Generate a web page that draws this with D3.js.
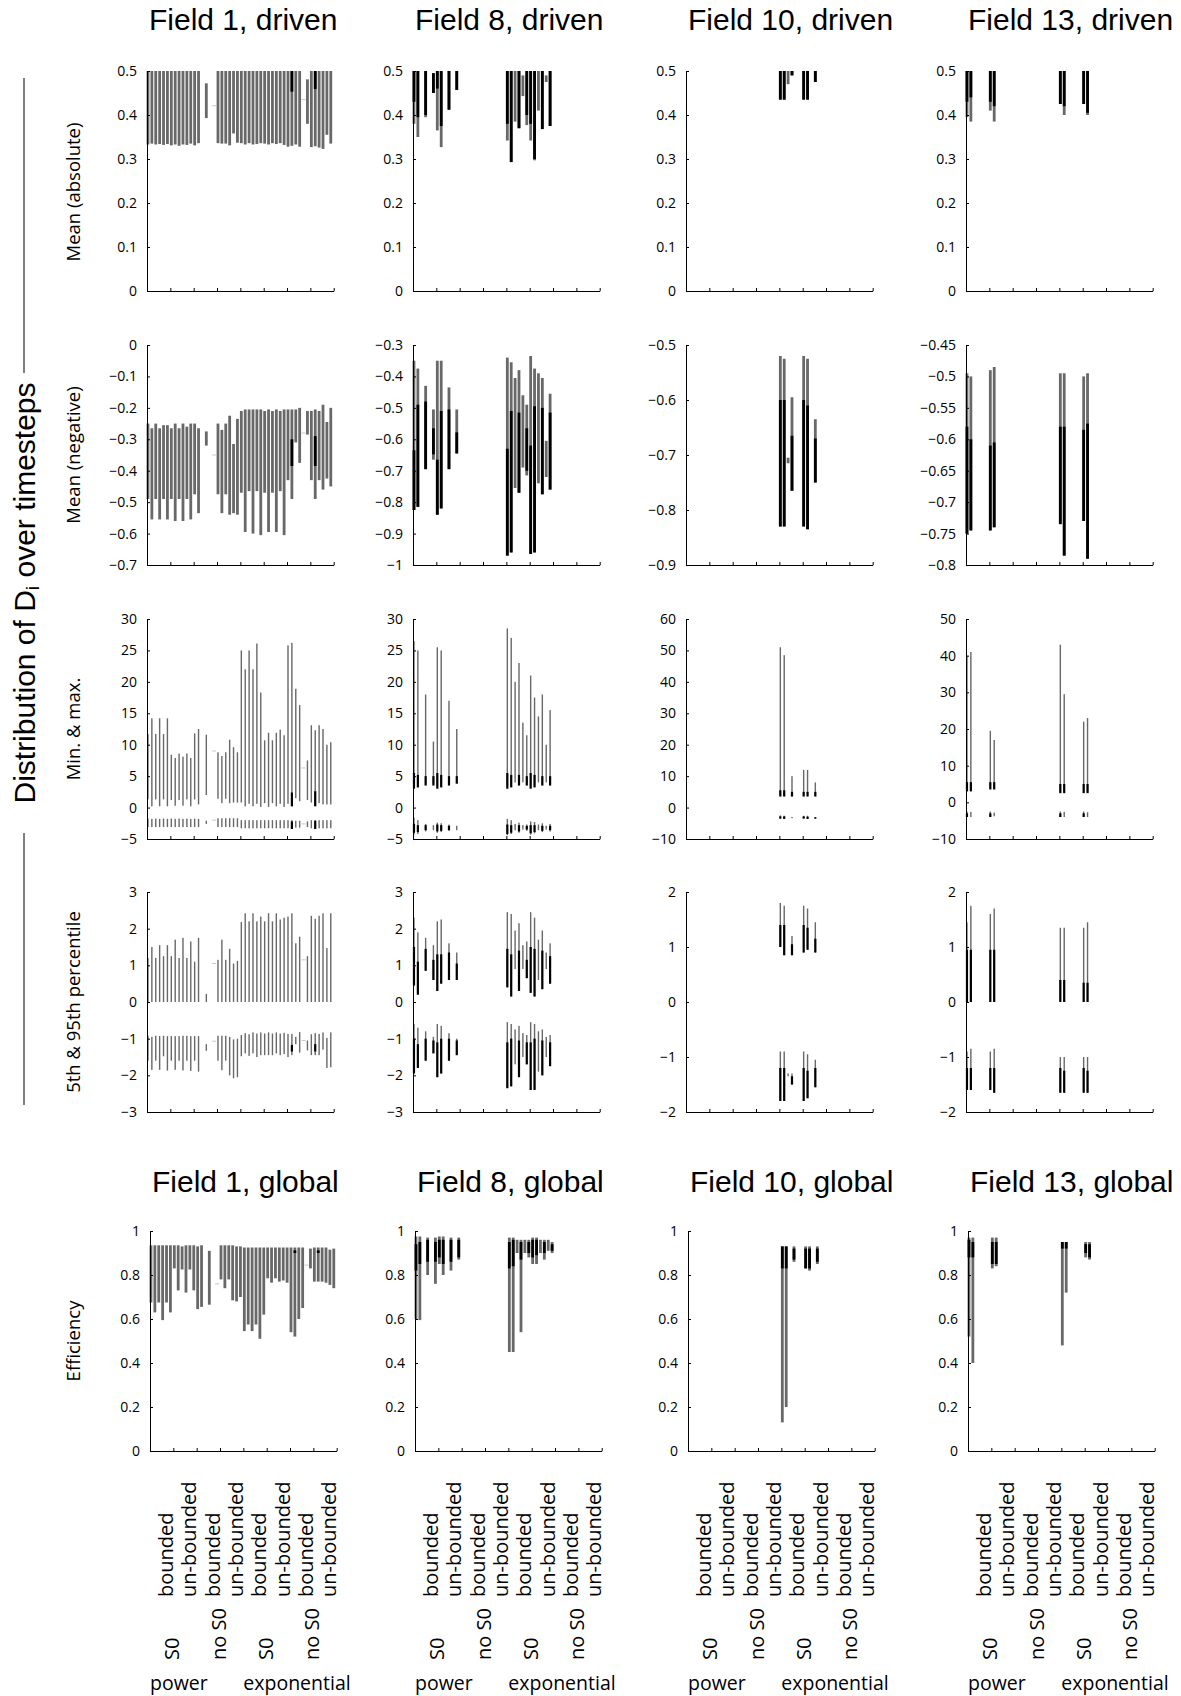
<!DOCTYPE html>
<html>
<head>
<meta charset="utf-8">
<script src="https://cdn.jsdelivr.net/npm/d3@7"></script>
<style>
  body { margin: 0; background: #fff; }
  svg text { font-family: "Open Sans", sans-serif; fill: #000; }
</style>
</head>
<body>
<script>
// 8 groups x 6 slots along each x axis
const slots = 48;
const groupLabels = ['bounded', 'un-bounded', 'bounded', 'un-bounded', 'bounded', 'un-bounded', 'bounded', 'un-bounded'];
const s0Labels = ['S0', 'no S0', 'S0', 'no S0'];
const modelLabels = ['power', 'exponential'];
const fieldNames = ['Field 1', 'Field 8', 'Field 10', 'Field 13'];
const rowLabels = ['Mean (absolute)', 'Mean (negative)', 'Min. & max.', '5th & 95th percentile', 'Efficiency'];

// y ticks per row / column
const yTicks = [
  [[0, .1, .2, .3, .4, .5], [0, .1, .2, .3, .4, .5], [0, .1, .2, .3, .4, .5], [0, .1, .2, .3, .4, .5]],
  [[-.7, -.6, -.5, -.4, -.3, -.2, -.1, 0], [-1, -.9, -.8, -.7, -.6, -.5, -.4, -.3], [-.9, -.8, -.7, -.6, -.5], [-.8, -.75, -.7, -.65, -.6, -.55, -.5, -.45]],
  [[-5, 0, 5, 10, 15, 20, 25, 30], [-5, 0, 5, 10, 15, 20, 25, 30], [-10, 0, 10, 20, 30, 40, 50, 60], [-10, 0, 10, 20, 30, 40, 50]],
  [[-3, -2, -1, 0, 1, 2, 3], [-3, -2, -1, 0, 1, 2, 3], [-2, -1, 0, 1, 2], [-2, -1, 0, 1, 2]],
  [[0, .2, .4, .6, .8, 1], [0, .2, .4, .6, .8, 1], [0, .2, .4, .6, .8, 1], [0, .2, .4, .6, .8, 1]]
];

// bars: [slot, grayLo, grayHi, blackLo, blackHi]
const f1MeanAbs = [[0,.333,.5],[1,.335,.5],[2,.333,.5],[3,.334,.5],[4,.332,.5],[5,.334,.5],[6,.331,.5],[7,.333,.5],[8,.330,.5],[9,.333,.5],[10,.332,.5],[11,.335,.5],[12,.331,.5],[13,.336,.5],[15,.393,.472],[17,.421,.421],[18,.336,.5],[19,.335,.5],[20,.335,.5],[21,.331,.5],[22,.358,.5],[23,.337,.5],[24,.336,.5],[25,.333,.5],[26,.336,.5],[27,.333,.5],[28,.334,.5],[29,.336,.5],[30,.335,.5],[31,.333,.5],[32,.336,.5],[33,.334,.5],[34,.336,.5],[35,.332,.5],[36,.328,.5],[37,.330,.5,.453,.5],[38,.333,.5],[39,.328,.5],[40,.435,.435],[41,.380,.481],[42,.327,.5],[43,.329,.5,.459,.5],[44,.326,.5],[45,.323,.5],[46,.355,.5],[47,.335,.5]];
const f1MeanNeg = [[0,-.49,-.25],[1,-.555,-.265],[2,-.49,-.25],[3,-.555,-.265],[4,-.49,-.255],[5,-.555,-.255],[6,-.49,-.265],[7,-.56,-.25],[8,-.49,-.265],[9,-.56,-.25],[10,-.49,-.26],[11,-.555,-.25],[12,-.475,-.25],[13,-.535,-.265],[15,-.32,-.275],[17,-.35,-.35],[18,-.475,-.25],[19,-.535,-.27],[20,-.475,-.25],[21,-.54,-.225],[22,-.535,-.315],[23,-.54,-.235],[24,-.47,-.21],[25,-.595,-.205],[26,-.465,-.205],[27,-.6,-.205],[28,-.465,-.205],[29,-.605,-.205],[30,-.47,-.21],[31,-.595,-.205],[32,-.47,-.21],[33,-.595,-.205],[34,-.465,-.21],[35,-.605,-.205],[36,-.43,-.205],[37,-.49,-.205,-.385,-.30],[38,-.31,-.205],[39,-.375,-.2],[40,-.28,-.28],[41,-.285,-.21],[42,-.43,-.21],[43,-.49,-.205,-.385,-.29],[44,-.43,-.21],[45,-.46,-.19],[46,-.425,-.245],[47,-.45,-.2]];
const f1Max = [[0,1.3,11.7],[1,.2,14.2],[2,1.3,11.7],[3,.2,14.2],[4,1.3,11.7],[5,.2,14.2],[6,1.2,8.4],[7,.3,7.9],[8,1.2,8.6],[9,.3,8.1],[10,1.3,8.6],[11,.2,7.9],[12,1.3,11.8],[13,.5,12.5],[15,2,11.6],[17,9,9],[18,1.4,8.8],[19,.7,8.2],[20,1.4,8.8],[21,.7,10.8],[22,.8,9.6],[23,.8,8.8],[24,.8,25],[25,.2,22],[26,.6,25],[27,.2,22],[28,.6,26.1],[29,.1,18.3],[30,.7,10.7],[31,.1,11.9],[32,.7,10.7],[33,.2,11.9],[34,.6,12.4],[35,.1,11.5],[36,.6,25.8],[37,.2,26.2,.2,2.4],[38,1.5,18.9],[39,1,16.3],[40,6.3,6.3],[41,1.2,7.5],[42,.8,13.1],[43,.3,12.3,.2,2.6],[44,.7,13.1],[45,.5,12.5],[46,.5,10],[47,.5,10.4]];
const f1Min = [[0,-3.1,-1.75],[1,-3.1,-1.8],[2,-3.1,-1.75],[3,-3.1,-1.8],[4,-3.1,-1.75],[5,-3.1,-1.8],[6,-3.1,-1.75],[7,-3.1,-1.8],[8,-3.1,-1.75],[9,-3.1,-1.8],[10,-3.1,-1.75],[11,-3.1,-1.8],[12,-3.1,-1.75],[13,-3.1,-1.8],[15,-2.6,-2.1],[17,-2.0,-2.0],[18,-3.1,-1.7],[19,-3.1,-1.7],[20,-3.1,-1.7],[21,-3.1,-1.7],[22,-3.1,-1.7],[23,-3.1,-1.7],[24,-3.3,-2],[25,-3.3,-2],[26,-3.3,-2],[27,-3.3,-2],[28,-3.3,-2],[29,-3.3,-2],[30,-3.3,-2],[31,-3.3,-2],[32,-3.3,-2],[33,-3.3,-2],[34,-3.3,-2],[35,-3.3,-2],[36,-3.3,-2],[37,-3.4,-2,-3.4,-2.2],[38,-3.2,-2.1],[39,-3.2,-2.1],[40,-2.6,-2.6],[41,-3.1,-2.2],[42,-3.3,-2],[43,-3.4,-2,-3.4,-2.1],[44,-3.3,-2],[45,-3.3,-2],[46,-3.3,-2],[47,-3.3,-2]];
const f1P95 = [[0,0,1.2],[1,0,1.5],[2,0,1.2],[3,0,1.55],[4,0,1.25],[5,0,1.55],[6,0,1.25],[7,0,1.7],[8,0,1.2],[9,0,1.75],[10,0,1.2],[11,0,1.65],[12,0,1.1],[13,0,1.75],[15,0,.22],[17,1.05,1.05],[18,0,1.15],[19,0,1.7],[20,0,1.15],[21,0,1.45],[22,0,1.05],[23,0,1.12],[24,0,2.18],[25,0,2.42],[26,0,2.2],[27,0,2.42],[28,0,2.2],[29,0,2.33],[30,0,2.2],[31,0,2.42],[32,0,2.2],[33,0,2.42],[34,0,2.25],[35,0,2.3],[36,0,2.33],[37,0,2.42],[38,0,1.6],[39,0,1.78],[40,1.15,1.15],[41,0,1.25],[42,0,2.35],[43,0,2.27],[44,0,2.35],[45,0,2.42],[46,0,1.47],[47,0,2.42]];
const f1P5 = [[0,-1.6,-.92],[1,-1.85,-.95],[2,-1.6,-.92],[3,-1.85,-.93],[4,-1.48,-.92],[5,-1.87,-.93],[6,-1.6,-.93],[7,-1.85,-.93],[8,-1.6,-.93],[9,-1.87,-.92],[10,-1.6,-.92],[11,-1.88,-.93],[12,-1.6,-.93],[13,-1.9,-.93],[15,-1.33,-1.15],[17,-1.07,-1.07],[18,-1.6,-.92],[19,-1.86,-.92],[20,-1.6,-.92],[21,-2,-.95],[22,-2.08,-1.02],[23,-2.05,-1],[24,-1.48,-.9],[25,-1.4,-.85],[26,-1.47,-.88],[27,-1.4,-.83],[28,-1.5,-.86],[29,-1.45,-.83],[30,-1.45,-.86],[31,-1.45,-.83],[32,-1.45,-.86],[33,-1.4,-.83],[34,-1.45,-.86],[35,-1.42,-.84],[36,-1.5,-.87],[37,-1.45,-.87,-1.35,-1.17],[38,-1.15,-.95],[39,-1.38,-.82],[40,-1.05,-1.05],[41,-1.32,-1.05],[42,-1.45,-.88],[43,-1.45,-.85,-1.35,-1.15],[44,-1.45,-.87],[45,-1.3,-.83],[46,-1.8,-.98],[47,-1.78,-.83]];
const f1Eff = [[0,.675,.935],[1,.63,.935],[2,.675,.935],[3,.595,.935],[4,.675,.935],[5,.63,.935],[6,.83,.935],[7,.73,.935],[8,.825,.93],[9,.72,.935],[10,.825,.935],[11,.73,.935],[12,.645,.93],[13,.655,.935],[15,.665,.91],[17,.76,.76],[18,.78,.935],[19,.74,.935],[20,.78,.935],[21,.685,.935],[22,.68,.93],[23,.70,.93],[24,.545,.925],[25,.575,.925],[26,.545,.925],[27,.575,.925],[28,.51,.925],[29,.62,.925],[30,.785,.925],[31,.765,.925],[32,.785,.925],[33,.77,.925],[34,.775,.925],[35,.765,.925],[36,.54,.925],[37,.52,.925,.9,.912],[38,.6,.925],[39,.65,.925],[40,.845,.845],[41,.83,.92],[42,.77,.925],[43,.77,.925,.9,.912],[44,.77,.925],[45,.765,.925],[46,.755,.915],[47,.74,.92]];

const f8MeanAbs = [[0,.38,.5,.43,.5],[1,.35,.5,.395,.5],[3,.395,.5,.40,.5],[5,.45,.495,.45,.495],[6,.365,.5,.46,.5],[7,.327,.5,.375,.5],[9,.412,.5,.412,.5],[11,.457,.5,.457,.5],[24,.342,.5,.38,.5],[25,.293,.5,.293,.5],[26,.385,.5],[27,.37,.5,.37,.5],[28,.443,.49],[29,.377,.5,.40,.5],[30,.342,.5,.38,.5],[31,.297,.5,.30,.5],[32,.41,.5],[33,.368,.5,.368,.5],[34,.475,.49],[35,.375,.5,.375,.5]];
const f8MeanNeg = [[0,-.825,-.35,-.825,-.635],[1,-.815,-.375,-.815,-.49],[3,-.695,-.43,-.695,-.48],[5,-.665,-.505,-.648,-.565],[6,-.84,-.35,-.84,-.665],[7,-.82,-.35,-.82,-.51],[9,-.695,-.435,-.695,-.505],[11,-.645,-.505,-.645,-.578],[24,-.97,-.34,-.97,-.63],[25,-.96,-.355,-.96,-.51],[26,-.755,-.405],[27,-.77,-.38,-.77,-.515],[28,-.69,-.46],[29,-.715,-.49,-.70,-.565],[30,-.965,-.335,-.965,-.62],[31,-.96,-.375,-.96,-.495],[32,-.74,-.39],[33,-.775,-.405,-.775,-.5],[34,-.72,-.605],[35,-.76,-.455,-.76,-.515]];
const f8Max = [[0,3.5,26.5,3,5.5],[1,3.5,25,3.2,5.2],[3,3.8,18,3.5,5],[5,3.8,10.5,3.5,5],[6,3.5,25.5,3,5.5],[7,3.5,25,3.2,5.2],[9,3.8,17,3.5,5],[11,4,12.5,3.8,5],[24,3.5,28.5,3,5.5],[25,3.5,27,3.2,5.2],[26,4,20],[27,3.8,23,3.5,5.2],[28,4,13.5],[29,3.8,11.5,3.5,5],[30,3.5,21,3,5.5],[31,3.5,17.5,3.2,5.2],[32,4,14.5],[33,3.8,18,3.5,5],[34,4,10],[35,3.8,15.5,3.5,5]];
const f8Min = [[0,-4.3,-1.6,-4,-2.6],[1,-4.2,-2,-3.9,-2.8],[3,-3.8,-2.6,-3.6,-2.8],[5,-3.6,-2.8],[6,-4,-2.4,-3.8,-2.7],[7,-3.9,-2.5,-3.7,-2.8],[9,-3.7,-2.7,-3.6,-2.9],[11,-3.6,-2.9],[24,-4.4,-1.8,-4.2,-2.7],[25,-4.2,-2,-4,-2.8],[26,-3.6,-2.6],[27,-4,-2.4,-3.8,-2.8],[28,-3.5,-2.8],[29,-3.7,-2.7,-3.5,-2.9],[30,-4.3,-2.2,-4.1,-2.8],[31,-4.1,-2.3,-3.9,-2.8],[32,-3.6,-2.7],[33,-3.9,-2.5,-3.7,-2.9],[34,-3.5,-2.9],[35,-3.8,-2.6,-3.6,-2.9]];
const f8P95 = [[0,.45,2.3,.45,1.5],[1,.2,1.9,.2,1.1],[3,.85,1.75,.85,1.45],[5,.6,1.55,.6,1.15],[6,.3,2.2,.3,1.3],[7,.5,2.25,.5,1.3],[9,.6,1.6,.6,1.35],[11,.6,1.35,.6,1.05],[24,.4,2.45,.4,1.45],[25,.15,2.4,.15,1.3],[26,.9,1.95],[27,.3,2.15,.3,1.4],[28,.9,1.55],[29,.65,1.65,.65,1.15],[30,.25,2.45,.25,1.5],[31,.15,2.3,.15,1.45],[32,.6,1.7],[33,.35,1.95,.35,1.4],[34,.9,1.35],[35,.5,1.6,.5,1.25]];
const f8P5 = [[0,-1.95,-.6,-1.95,-1],[1,-1.8,-.7,-1.8,-1.15],[3,-1.6,-.8,-1.6,-1],[5,-1.4,-.95,-1.4,-1.05],[6,-2.05,-.6,-2.05,-1.1],[7,-1.95,-.65,-1.95,-1],[9,-1.6,-.85,-1.6,-1],[11,-1.45,-1,-1.45,-1.05],[24,-2.35,-.55,-2.35,-1.1],[25,-2.3,-.6,-2.3,-1],[26,-1.7,-.75],[27,-2.05,-.65,-2.05,-1.05],[28,-1.5,-.85],[29,-1.7,-.9,-1.7,-1.1],[30,-2.4,-.55,-2.4,-1.1],[31,-2.4,-.6,-2.4,-1],[32,-1.9,-.8],[33,-2,-.75,-2,-1.05],[34,-1.5,-.95],[35,-1.75,-.9,-1.75,-1.1]];
const f8Eff = [[0,.6,.975,.82,.94],[1,.595,.975,.85,.95],[3,.8,.97,.86,.96],[5,.76,.97,.86,.95],[6,.85,.975,.88,.96],[7,.8,.975,.85,.96],[9,.82,.97,.86,.96],[11,.87,.97,.88,.96],[24,.45,.97,.83,.95],[25,.45,.97,.84,.96],[26,.9,.96],[27,.54,.96,.87,.95],[28,.9,.96],[29,.88,.96,.9,.95],[30,.85,.97,.88,.96],[31,.85,.97,.89,.96],[32,.9,.96],[33,.87,.96,.9,.95],[34,.91,.96],[35,.9,.95,.91,.94]];

const f10MeanAbs = [[24,.435,.5,.435,.5],[25,.435,.5,.435,.5],[26,.47,.5],[27,.49,.5,.49,.5],[30,.435,.5,.435,.5],[31,.435,.5,.435,.5],[33,.475,.5,.475,.5]];
const f10MeanNeg = [[24,-.83,-.52,-.83,-.6],[25,-.83,-.525,-.83,-.6],[26,-.715,-.705],[27,-.765,-.595,-.765,-.665],[30,-.83,-.52,-.83,-.6],[31,-.835,-.525,-.835,-.61],[33,-.75,-.635,-.75,-.67]];
const f10Max = [[24,4,51,3.5,5.5],[25,4,48.5,3.5,5.5],[27,4,10,3.5,5],[30,4,12,3.5,5],[31,4,12,3.5,5],[33,4,8,3.5,5]];
const f10Min = [[24,-3.5,-2.5,-3.5,-2.8],[25,-3.6,-2.6,-3.6,-2.8],[27,-3.4,-3],[30,-3.5,-2.6,-3.5,-2.8],[31,-3.6,-2.6,-3.6,-2.9],[33,-3.5,-3,-3.5,-3.1]];
const f10P95 = [[24,1,1.8,1,1.4],[25,.85,1.75,.85,1.4],[27,.85,1.2,.85,1.05],[30,.9,1.75,.9,1.4],[31,.95,1.7,.95,1.35],[33,.9,1.45,.9,1.15]];
const f10P5 = [[24,-1.8,-.9,-1.8,-1.2],[25,-1.8,-.9,-1.8,-1.2],[26,-1.35,-1.3],[27,-1.5,-1.3,-1.5,-1.35],[30,-1.8,-.9,-1.8,-1.2],[31,-1.75,-.95,-1.75,-1.25],[33,-1.55,-1.05,-1.55,-1.2]];
const f10Eff = [[24,.13,.93,.83,.93],[25,.2,.93,.83,.93],[27,.86,.93,.87,.92],[30,.83,.93,.83,.92],[31,.82,.93,.83,.92],[33,.85,.93,.86,.92]];

const f13MeanAbs = [[0,.395,.5,.43,.5],[1,.385,.5,.44,.5],[6,.41,.5,.43,.5],[7,.385,.5,.42,.5],[24,.425,.5,.425,.5],[25,.40,.5,.42,.5],[30,.425,.5,.425,.5],[31,.40,.5,.405,.5]];
const f13MeanNeg = [[0,-.75,-.495,-.75,-.58],[1,-.745,-.50,-.745,-.6],[6,-.745,-.49,-.745,-.61],[7,-.74,-.485,-.74,-.605],[24,-.735,-.495,-.735,-.58],[25,-.785,-.495,-.785,-.58],[30,-.73,-.50,-.73,-.585],[31,-.79,-.495,-.79,-.575]];
const f13Max = [[0,3,40,3,5.5],[1,3,41,3,5.5],[6,4,19.5,3.5,5.5],[7,4,17,3.5,5.5],[24,3,43,2.5,5],[25,3,29.5,2.5,5],[30,3,22,2.5,5],[31,3,23,2.5,5]];
const f13Min = [[0,-4,-2.5,-4,-3],[1,-4,-2.6],[6,-4,-2.5,-4,-3],[7,-3.8,-2.8],[24,-4,-2.5,-4,-3],[25,-4,-2.6],[30,-4,-2.5,-4,-3],[31,-4,-2.7]];
const f13P95 = [[0,0,1.45,0,.95],[1,0,1.75,0,.95],[6,0,1.6,0,.95],[7,0,1.7,0,.95],[24,0,1.35,0,.4],[25,0,1.35,0,.4],[30,0,1.35,0,.35],[31,0,1.45,0,.35]];
const f13P5 = [[0,-1.6,-.9,-1.6,-1.2],[1,-1.6,-.85,-1.6,-1.2],[6,-1.6,-.9,-1.6,-1.2],[7,-1.65,-.85,-1.65,-1.2],[24,-1.65,-1,-1.65,-1.2],[25,-1.65,-1,-1.65,-1.25],[30,-1.65,-1,-1.65,-1.2],[31,-1.65,-1,-1.65,-1.25]];
const f13Eff = [[0,.52,.97,.88,.96],[1,.4,.97,.88,.95],[6,.83,.97,.85,.95],[7,.84,.97,.85,.95],[24,.48,.95,.92,.95],[25,.72,.95,.92,.95],[30,.88,.95,.9,.94],[31,.87,.95,.88,.94]];

// panel contents: rows x columns, each a list of bar series
const panelData = [
  [[f1MeanAbs], [f8MeanAbs], [f10MeanAbs], [f13MeanAbs]],
  [[f1MeanNeg], [f8MeanNeg], [f10MeanNeg], [f13MeanNeg]],
  [[f1Max, f1Min], [f8Max, f8Min], [f10Max, f10Min], [f13Max, f13Min]],
  [[f1P95, f1P5], [f8P95, f8P5], [f10P95, f10P5], [f13P95, f13P5]],
  [[f1Eff], [f8Eff], [f10Eff], [f13Eff]]
];

// layout
const colX = [147, 413, 686, 966];
const row5Shift = [3, 2, 2, 2];
const rowTop = [71, 345, 619, 892, 1231];
const plotW = 186.7, plotH = 220;
const gray = '#686868';
const titleFont = '"Liberation Sans", Arial, sans-serif';

const svg = d3.select('body').append('svg')
  .attr('width', 1181)
  .attr('height', 1696);

const fmt = v => (v < 0 ? '\u2212' : '') + Math.abs(+v.toFixed(2));

function drawPanel(r, c) {
  const x0 = colX[c] + (r === 4 ? row5Shift[c] : 0);
  const g = svg.append('g').attr('transform', `translate(${x0},${rowTop[r]})`);
  const ticks = yTicks[r][c];
  const x = d3.scaleLinear().domain([0, slots]).range([0, plotW]);
  const y = d3.scaleLinear().domain(d3.extent(ticks)).range([plotH, 0]).clamp(true);
  const thin = r === 2 || r === 3;
  const gw = thin ? 1.4 : 2.8, bw = thin ? 2.2 : 2.8;
  const bars = panelData[r][c].flat();
  const cx = d => x(d[0] + 0.25);

  // dashes: zero-length entries
  g.selectAll('rect.dash')
    .data(bars.filter(d => d[1] === d[2]))
    .join('rect')
      .attr('x', d => cx(d) - 2)
      .attr('y', d => y(d[1]) - 0.5)
      .attr('width', 4)
      .attr('height', 1)
      .attr('fill', '#c8c8c8');

  // gray range bars
  g.selectAll('rect.gray')
    .data(bars.filter(d => d[1] !== d[2]))
    .join('rect')
      .attr('x', d => cx(d) - gw / 2)
      .attr('y', d => y(d[2]))
      .attr('width', gw)
      .attr('height', d => Math.max(1, y(d[1]) - y(d[2])))
      .attr('fill', gray);

  // black range bars on top
  g.selectAll('rect.black')
    .data(bars.filter(d => d.length > 3))
    .join('rect')
      .attr('x', d => cx(d) - bw / 2)
      .attr('y', d => y(d[4]))
      .attr('width', bw)
      .attr('height', d => Math.max(1, y(d[3]) - y(d[4])))
      .attr('fill', '#000');

  // axes, ticks pointing inward
  const ax = g.append('g')
    .call(d3.axisLeft(y).tickValues(ticks).tickFormat(fmt).tickSizeInner(-3).tickSizeOuter(0).tickPadding(10));
  const bx = g.append('g').attr('transform', `translate(0,${plotH})`)
    .call(d3.axisBottom(x).tickValues(d3.range(0, slots + 1, 6)).tickFormat('').tickSizeInner(-3).tickSizeOuter(0));
  [ax, bx].forEach(a => {
    a.select('.domain').attr('stroke', '#000');
    a.selectAll('.tick line').attr('stroke', '#000');
  });
  ax.selectAll('text').attr('font-size', 14).attr('font-family', '"Open Sans", sans-serif');

  return x;
}

for (let c = 0; c < 4; c++) {
  for (let r = 0; r < 5; r++) {
    const x = drawPanel(r, c);
    if (r === 4) {
      const x0 = colX[c] + row5Shift[c];
      const lab = svg.append('g').attr('transform', `translate(${x0},0)`);
      lab.selectAll('text.grp').data(groupLabels).join('text')
        .attr('transform', (d, i) => `translate(${x(i * 6 + 4)},1597) rotate(-90)`)
        .attr('dominant-baseline', 'central')
        .attr('font-size', 20)
        .text(d => d);
      lab.selectAll('text.s0').data(s0Labels).join('text')
        .attr('transform', (d, i) => `translate(${x(i * 12 + 5.6)},1660) rotate(-90)`)
        .attr('dominant-baseline', 'central')
        .attr('font-size', 20)
        .text(d => d);
      lab.selectAll('text.model').data(modelLabels).join('text')
        .attr('x', (d, i) => x(i * 24))
        .attr('y', 1690)
        .attr('font-size', 19.5)
        .text(d => d);
    }
  }
  // column titles
  svg.append('text')
    .attr('x', colX[c] + 2).attr('y', 30)
    .style('font-family', titleFont)
    .attr('font-size', 30)
    .text(fieldNames[c] + ', driven');
  svg.append('text')
    .attr('x', colX[c] + row5Shift[c] + 2).attr('y', 1192)
    .style('font-family', titleFont)
    .attr('font-size', 30)
    .text(fieldNames[c] + ', global');
}

// row labels
const rowCenters = [192, 455, 729, 1002, 1341];
svg.selectAll('text.rowlab').data(rowLabels).join('text')
  .attr('transform', (d, i) => `translate(72,${rowCenters[i]}) rotate(-90)`)
  .attr('text-anchor', 'middle')
  .attr('dominant-baseline', 'central')
  .attr('font-size', 18.5)
  .text(d => d);

// big left label with bracket lines
const big = svg.append('text')
  .attr('transform', 'translate(24,593) rotate(-90)')
  .attr('text-anchor', 'middle')
  .attr('dominant-baseline', 'central')
  .style('font-family', titleFont)
  .attr('font-size', 30);
big.append('tspan').text('Distribution of D');
big.append('tspan').attr('font-size', 19).attr('dy', 8).text('i');
big.append('tspan').attr('dy', -8).text(' over timesteps');

svg.append('line').attr('x1', 24).attr('x2', 24).attr('y1', 78).attr('y2', 373).attr('stroke', '#000');
svg.append('line').attr('x1', 24).attr('x2', 24).attr('y1', 833).attr('y2', 1105).attr('stroke', '#000');
</script>
</body>
</html>
